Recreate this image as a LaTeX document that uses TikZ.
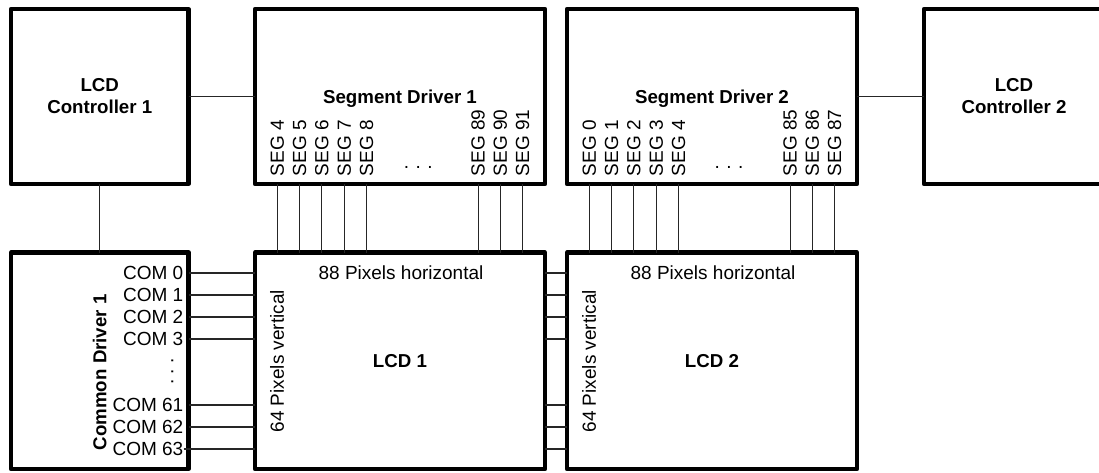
\documentclass[tikz,border=0pt]{standalone}
\usepackage{fontspec}
\setmainfont{Liberation Sans}
\usetikzlibrary{positioning, calc}

\begin{document}
\begin{tikzpicture}[
    x=1pt, y=-1pt,
    every node/.style={font=\fontsize{19}{22}\selectfont},
    block/.style={
      rectangle, draw=black, line width=4.2pt, line join=round,
      fill=white, outer sep=0pt, inner sep=0pt,
      minimum width=177.5pt, minimum height=175pt,
      align=center, font=\fontsize{18.7}{22}\selectfont\bfseries
    },
    driver/.style={block, minimum width=290pt, text depth=0pt},
    panel/.style={block, minimum width=290pt, minimum height=216.5pt},
    wire/.style={line width=1.1pt, draw=black!85},
    seglbl/.style={rotate=90, anchor=west, inner sep=0pt},
    comlbl/.style={anchor=east, inner sep=0pt},
    dots/.style={anchor=base, inner sep=0pt}
  ]
  \useasboundingbox (0,0) rectangle (1099,472);

  % top row
  \node[block] (ctrl1) at (99.75,96.5) {LCD\\Controller 1};
  \node[driver, right=66.5pt of ctrl1] (seg1) {Segment Driver 1};
  \node[driver, right=22pt of seg1] (seg2) {Segment Driver 2};
  \node[block, minimum width=180pt, right=67pt of seg2] (ctrl2) {LCD\\Controller 2};

  % bottom row
  \node[block, minimum height=216.5pt, below=68.5pt of ctrl1] (cdrv) {};
  \node[panel, below=68.5pt of seg1] (lcd1) {LCD 1};
  \node[panel, below=68.5pt of seg2] (lcd2) {LCD 2};

  \node[rotate=90, font=\fontsize{18.7}{22}\selectfont\bfseries] (cdrvlbl)
    at ($(cdrv.center)+(0,11.5)$) {Common Driver 1};

  \draw[wire] (ctrl1.east) -- (seg1.west);
  \draw[wire] (seg2.east) -- (ctrl2.west);
  \draw[wire] (ctrl1.south) -- (cdrv.north);

  % segment lines
  \foreach \i/\n in {1/4,2/5,3/6,4/7,5/8,10/89,11/90,12/91}{
    \coordinate (sa\i) at ($(seg1.south west)!\i/13!(seg1.south east)$);
    \node[seglbl] (sal\i) at ($(sa\i)+(0,-7.5)$) {SEG \n};
    \draw[wire] (sa\i) -- (sa\i |- lcd1.north);
  }
  \foreach \i/\n in {1/0,2/1,3/2,4/3,5/4,10/85,11/86,12/87}{
    \coordinate (sb\i) at ($(seg2.south west)!\i/13!(seg2.south east)$);
    \node[seglbl] (sbl\i) at ($(sb\i)+(0,-7.5)$) {SEG \n};
    \draw[wire] (sb\i) -- (sb\i |- lcd2.north);
  }
  \node[dots] (dots1) at ($(seg1.south)+(18.3,-15.7)$) {.\hspace{6.5pt}.\hspace{6.5pt}.};
  \node[dots] (dots2) at ($(seg2.south)+(17,-15.7)$) {.\hspace{6.5pt}.\hspace{6.5pt}.};

  % common lines
  \foreach \k/\n in {0/0,1/1,2/2,3/3,6/61,7/62,8/63}{
    \coordinate (c\k) at ($(cdrv.north east)+(0,20.5+22*\k)$);
    \node[comlbl] (cl\k) at ($(c\k)+(-5,0)$) {COM \n};
    \draw[wire] (c\k) -- (c\k -| lcd1.west);
    \draw[wire] (c\k -| lcd1.east) -- (c\k -| lcd2.west);
  }
  \draw[wire] (cl8.east) -- (c8);
  \node[dots, rotate=90] (dots3) at ($(cdrv.east)+(-15.2,10.75)$) {.\hspace{5pt}.\hspace{5pt}.};

  % panel captions
  \node (hor1) at ($(lcd1.north)+(1,20.5)$) {88 Pixels horizontal};
  \node (hor2) at ($(lcd2.north)+(1,20.5)$) {88 Pixels horizontal};
  \node[rotate=90] (ver1) at ($(lcd1.west)+(22,0.5)$) {64 Pixels vertical};
  \node[rotate=90] (ver2) at ($(lcd2.west)+(22,0.5)$) {64 Pixels vertical};
\end{tikzpicture}
\end{document}
